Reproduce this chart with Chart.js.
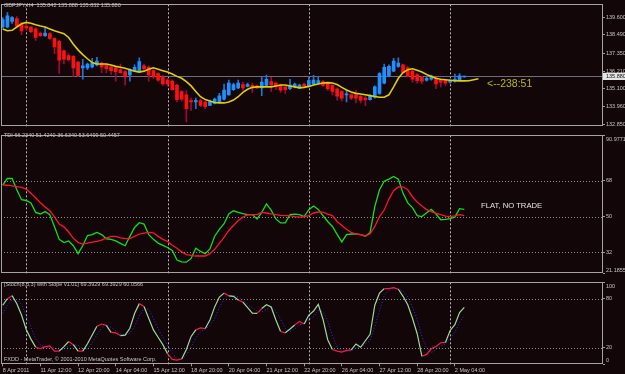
<!DOCTYPE html>
<html>
<head>
<meta charset="utf-8">
<script src="https://cdn.jsdelivr.net/npm/chart.js@4.4.0/dist/chart.umd.min.js"></script>
<style>
  body { margin: 0; background: #130609; }
  #wrap { position: relative; width: 625px; height: 374px; background: #130609; overflow: hidden;
          font-family: "Liberation Sans", Arial, sans-serif; }
  canvas { position: absolute; left: 0; }
  .t { position: absolute; white-space: nowrap; color: #c4c4c4; font-size: 5.5px; line-height: 1; }
</style>
</head>
<body>
<div id="wrap">
  <canvas id="main" width="625" height="131" style="top:0"></canvas>
  <canvas id="tdi" width="625" height="147" style="top:131px"></canvas>
  <canvas id="stoch" width="625" height="96" style="top:278px"></canvas>

  <div class="t" style="left:4px;top:3.3px">GBPJPY,H4&nbsp; 135.842 135.888 135.832 135.880</div>
  <div class="t" style="left:4px;top:132.6px">TDI 66.2340 51.4240 36.6340 53.6499 50.4457</div>
  <div class="t" style="left:4px;top:282.3px">[Stoch(8,3,3) with Slope v1.01] 69.3929 69.3929 60.0566</div>
  <div class="t" style="left:4px;top:356.6px">FXDD - MetaTrader, © 2001-2010 MetaQuotes Software Corp.</div>
  <div class="t" style="left:487px;top:77.5px;font-size:10.5px;color:#b8b814">&lt;--238:51</div>
  <div class="t" style="left:481px;top:202.3px;font-size:7.7px;color:#e4e4e4">FLAT, NO TRADE</div>
</div>

<script>
// ---- data (H4 bars, index 0 = 8 Apr 2011) ----
const tickBars = [0, 8, 16, 24, 32, 40, 48, 56, 64, 72, 80, 88, 96];
const timeLabels = ['8 Apr 2011', '11 Apr 12:00', '12 Apr 20:00', '14 Apr 04:00', '15 Apr 12:00',
  '18 Apr 20:00', '20 Apr 04:00', '21 Apr 12:00', '22 Apr 20:00', '26 Apr 04:00',
  '27 Apr 12:00', '28 Apr 20:00', '2 May 04:00'];
const gridBars = [5, 35, 65, 95];

const priceTicks = [132.85, 133.96, 135.10, 136.21, 137.35, 138.49, 139.60];
const tdiTicks = [21.1855, 32, 50, 68, 90.9771];
const tdiLevels = [32, 50, 68];
const stochTicks = [0, 20, 80, 100];
const stochLevels = [20, 80];

const opens = [138.99, 138.99, 139.34, 139.52, 139.16, 139.05, 138.99, 138.87, 138.60, 138.45,
  138.57, 138.27, 138.09, 137.49, 137.19, 137.14, 136.78, 136.42, 136.42, 136.48,
  136.60, 136.72, 136.60, 136.48, 136.42, 136.30, 136.18, 135.97, 136.21, 136.24,
  136.54, 136.45, 136.24, 136.06, 135.85, 135.64, 135.58, 135.34, 134.93, 134.72,
  134.36, 134.27, 134.36, 134.27, 134.06, 134.18, 134.27, 134.45, 134.72, 135.05,
  135.16, 135.37, 135.25, 135.31, 135.28, 135.16, 135.31, 135.55, 135.46, 135.34,
  135.22, 135.10, 135.22, 135.16, 135.40, 135.25, 135.40, 135.46, 135.55, 135.46,
  135.31, 135.10, 134.93, 134.72, 134.72, 134.72, 134.63, 134.51, 134.42, 134.57,
  134.81, 135.46, 135.91, 136.21, 136.51, 136.60, 136.42, 136.21, 136.00, 135.82,
  135.64, 135.70, 135.76, 135.64, 135.64, 135.52, 135.58, 135.64, 135.842];
const highs = [139.58, 139.90, 139.64, 139.64, 139.28, 139.34, 139.05, 138.93, 138.69, 138.99,
  138.63, 138.33, 138.15, 137.55, 137.31, 137.19, 136.84, 136.96, 136.72, 137.02,
  137.08, 136.78, 136.66, 136.54, 136.48, 136.66, 136.24, 136.36, 136.60, 137.05,
  136.66, 136.54, 136.30, 136.12, 135.94, 135.76, 135.64, 135.40, 134.99, 134.99,
  134.51, 134.51, 134.45, 134.33, 134.39, 134.51, 134.81, 135.40, 135.64, 135.46,
  135.64, 135.52, 135.46, 135.46, 135.34, 135.85, 135.97, 135.82, 135.52, 135.40,
  135.28, 135.70, 135.46, 135.40, 135.46, 135.85, 135.94, 135.85, 135.61, 135.52,
  135.37, 135.16, 134.99, 135.05, 134.78, 134.99, 134.69, 134.66, 134.72, 135.28,
  136.12, 136.66, 136.60, 137.02, 137.05, 136.66, 136.48, 136.27, 136.06, 135.88,
  135.82, 135.97, 135.82, 135.70, 135.70, 135.67, 136.03, 136.06, 135.888];
const lows = [138.93, 138.93, 139.22, 138.99, 138.51, 138.81, 138.63, 138.15, 138.39, 138.39,
  138.21, 137.31, 136.06, 136.66, 136.84, 135.88, 135.88, 135.70, 136.30, 136.42,
  136.54, 136.12, 136.12, 136.00, 135.58, 136.06, 135.34, 135.58, 136.18, 136.18,
  136.30, 135.58, 135.76, 135.58, 135.31, 135.28, 134.99, 134.27, 134.33, 133.02,
  133.73, 133.85, 133.97, 133.85, 134.03, 134.15, 134.21, 134.39, 134.69, 134.99,
  135.10, 134.99, 135.22, 134.87, 135.10, 134.66, 135.28, 134.93, 135.05, 134.87,
  134.81, 135.05, 135.16, 135.10, 135.19, 135.22, 135.34, 135.40, 135.25, 134.99,
  134.72, 134.39, 134.33, 134.27, 134.42, 134.21, 134.21, 134.03, 134.39, 134.51,
  134.75, 135.40, 135.85, 136.18, 136.45, 136.06, 135.85, 135.52, 135.46, 135.40,
  135.58, 135.64, 135.10, 135.22, 135.31, 135.46, 135.52, 135.58, 135.832];
const closes = [139.46, 139.70, 139.58, 139.05, 138.75, 138.93, 138.69, 138.33, 138.45, 138.60,
  138.27, 137.73, 136.90, 136.96, 136.93, 136.42, 135.94, 136.54, 136.66, 136.72,
  136.84, 136.48, 136.36, 136.24, 136.18, 136.12, 135.85, 136.30, 136.45, 136.81,
  136.36, 135.97, 135.85, 135.64, 135.40, 135.40, 135.05, 134.42, 134.45, 133.85,
  134.27, 134.36, 134.06, 133.97, 134.30, 134.45, 134.66, 135.02, 135.46, 135.37,
  135.46, 135.16, 135.37, 135.16, 135.16, 135.52, 135.70, 135.34, 135.25, 135.02,
  135.05, 135.34, 135.40, 135.34, 135.25, 135.61, 135.64, 135.61, 135.31, 135.10,
  134.93, 134.63, 134.51, 134.78, 134.51, 134.51, 134.39, 134.42, 134.66, 135.22,
  136.06, 136.45, 136.51, 136.84, 136.72, 136.12, 135.91, 135.70, 135.61, 135.58,
  135.76, 135.91, 135.40, 135.52, 135.46, 135.61, 135.70, 135.91, 135.880];

// moving average, displaced 3 bars forward (bars 0..101)
const maShifted = [138.87, 138.75, 138.78, 138.99, 139.19, 139.28, 139.22, 139.13, 139.05, 138.99,
  138.87, 138.75, 138.66, 138.57, 138.33, 137.91, 137.55, 137.25, 136.99, 136.75,
  136.66, 136.66, 136.66, 136.60, 136.51, 136.45, 136.39, 136.30, 136.21, 136.15,
  136.21, 136.33, 136.42, 136.33, 136.24, 136.15, 136.03, 135.88, 135.76, 135.55,
  135.28, 134.93, 134.60, 134.42, 134.33, 134.24, 134.21, 134.21, 134.27, 134.39,
  134.60, 134.87, 135.07, 135.19, 135.22, 135.22, 135.22, 135.22, 135.28, 135.34,
  135.34, 135.28, 135.22, 135.16, 135.19, 135.25, 135.34, 135.40, 135.46, 135.49,
  135.46, 135.37, 135.19, 135.02, 134.90, 134.81, 134.77, 134.72, 134.67, 134.61,
  134.57, 134.57, 134.72, 135.22, 135.76, 136.12, 136.30, 136.36, 136.27, 136.15,
  136.00, 135.88, 135.76, 135.70, 135.67, 135.64, 135.61, 135.60, 135.60, 135.61,
  135.67, 135.73];
const lastClose = 135.880;

// TDI: RSI price line (green) and trade signal line (red)
const rsiLine = [65.9, 69.2, 69.2, 63.5, 58.5, 58.1, 56.9, 52.1, 51.3, 52.5,
  51.0, 44.9, 38.5, 36.9, 37.7, 35.3, 31.3, 35.3, 40.4, 40.9,
  42.0, 40.9, 38.8, 38.5, 37.7, 36.5, 35.3, 40.0, 44.5, 46.9,
  46.2, 40.9, 38.5, 36.6, 35.5, 34.4, 32.9, 28.1, 27.2, 27.0,
  28.9, 34.0, 32.4, 31.3, 33.7, 40.1, 43.5, 46.4, 51.3, 52.9,
  52.1, 51.5, 51.0, 51.0, 48.8, 52.1, 56.4, 53.2, 48.8, 46.8,
  46.8, 51.0, 51.2, 51.0, 50.0, 53.5, 55.3, 53.6, 50.5, 47.5,
  45.0, 41.0, 37.2, 40.9, 41.2, 41.2, 40.9, 40.1, 42.0, 55.0,
  63.5, 67.8, 68.9, 70.2, 68.9, 61.7, 56.9, 54.5, 50.5, 50.0,
  51.9, 53.6, 51.3, 48.4, 48.6, 49.0, 49.7, 54.0, 53.65];
const signalLine = [66.0, 65.8, 65.5, 65.1, 64.7, 63.8, 61.8, 59.5, 57.0, 54.8,
  52.9, 49.8, 46.2, 44.8, 42.2, 39.0, 37.0, 36.1, 36.6, 37.1,
  37.5, 38.1, 39.1, 40.0, 40.0, 39.2, 38.9, 38.9, 40.0, 41.2,
  41.6, 42.0, 41.8, 40.0, 38.5, 37.5, 35.5, 34.0, 32.2, 30.8,
  30.4, 30.1, 30.1, 30.1, 31.3, 33.5, 36.5, 39.5, 43.0, 45.5,
  48.0, 49.7, 50.8, 51.0, 51.0, 52.1, 51.8, 51.4, 51.0, 50.6,
  50.5, 50.5, 50.0, 49.7, 49.9, 50.5, 51.8, 52.3, 52.2, 51.2,
  50.5, 47.5, 45.5, 43.6, 42.0, 41.2, 40.9, 40.2, 41.3, 45.0,
  50.0, 53.3, 58.8, 63.0, 64.9, 65.0, 63.5, 60.0, 57.3, 55.3,
  53.5, 52.5, 51.6, 51.0, 50.2, 50.0, 50.3, 51.0, 50.45];

// Stochastic 8,3,3
const stochMain = [72, 80, 83.7, 73.8, 60.1, 42.5, 30.7, 21, 19, 21.6,
  22.5, 16, 16, 21.6, 27.8, 23.9, 16, 16, 25, 35.7,
  46.3, 49.1, 47.5, 39, 38.4, 35, 35.5, 44, 62, 74,
  70.5, 56.1, 42, 33, 24, 13, 6, 5.1, 6.5, 18,
  34, 42, 44.3, 43.6, 54, 70, 82, 86.8, 83.5, 82.9,
  78.5, 75.8, 69, 62.5, 62, 68, 72.6, 69.9, 54, 40,
  38.4, 43, 48, 52.2, 49.1, 60.1, 64.9, 73.1, 55, 30,
  18, 16, 14.9, 16.9, 17.7, 24.8, 20.8, 28.7, 36.6, 72,
  86.8, 92.3, 92.3, 93.5, 91.5, 82.9, 72.6, 56.1, 37.3, 9.8,
  12.1, 18.9, 21.6, 26.3, 26.7, 41.3, 48.3, 63.2, 69.39];
const stochSignal = [62, 72, 79, 79, 73, 59, 45, 31, 24, 20,
  21, 20, 18, 18, 22, 24, 23, 19, 19, 26,
  36, 44, 48, 45, 41, 37, 36, 38, 46, 59,
  68, 67, 56, 43, 33, 23, 14, 7, 6, 11,
  21, 32, 40, 43, 47, 56, 69, 80, 84, 84,
  82, 79, 73, 69, 65, 64, 67, 70, 65, 55,
  44, 40, 43, 48, 50, 54, 58, 66, 64, 53,
  35, 21, 16, 16, 16.5, 20, 21, 25, 29, 46,
  65, 84, 90, 92.7, 92.4, 89, 82, 70, 55, 34,
  20, 14, 18, 22, 25, 31, 39, 51, 60.06];
// bars where the slope line is drawn red (flat slope)
const stochFlatBars = [1, 7, 8, 9, 10, 11, 14, 16, 20, 21, 23, 24, 29, 35, 36, 37, 41, 42,
  47, 50, 54, 59, 62, 63, 70, 71, 72, 73, 81, 82, 83, 89, 90, 91, 92, 93];

// ---- styling ----
const TXT = '#c4c4c4';
const FONT = { family: '"Liberation Sans", Arial, sans-serif', size: 5.5 };
const X_MIN = -0.36, X_MAX = 127.45;
const UP = '#1e90ff', DOWN = '#ff1010';
const UP_WICK = '#1c78d8', DOWN_WICK = '#9c0a3c';

function xScale(show) {
  return {
    type: 'linear', min: X_MIN, max: X_MAX, offset: false, display: show,
    afterBuildTicks: s => { s.ticks = tickBars.map(v => ({ value: v })); },
    afterFit: s => { s.height = show ? 9.7 : 0; },
    grid: { drawOnChartArea: false, drawTicks: true, tickLength: 2, color: '#9a9a9a' },
    border: { display: false },
    ticks: { autoSkip: false, maxRotation: 0, minRotation: 0, align: 'start', padding: 0.5,
             color: TXT, font: FONT, callback: (v, i) => timeLabels[i] }
  };
}

function yScale(min, max, ticks, fmt) {
  return {
    position: 'right', min, max,
    afterBuildTicks: s => { s.ticks = ticks.map(v => ({ value: v })); },
    afterFit: s => { s.width = 22; },
    grid: { drawOnChartArea: false, drawTicks: true, tickLength: 2, color: '#9a9a9a' },
    border: { display: false },
    ticks: { autoSkip: false, padding: 1, color: TXT, font: FONT, callback: fmt }
  };
}

// frame, dotted levels, vertical grid, edge label clamp, bid line
const panel = {
  id: 'panel',
  beforeDraw(chart, args, o) {
    if (!o.clamp) return;
    const a = chart.chartArea;
    chart.scales.y.getLabelItems().forEach(it => {
      const t = it.options.translation;
      t[1] = Math.min(Math.max(t[1], a.top + 3.8), a.bottom - 3.6);
    });
  },
  beforeDatasetsDraw(chart, args, o) {
    const { ctx, chartArea: a, scales } = chart;
    const line = (x1, y1, x2, y2) => { ctx.beginPath(); ctx.moveTo(x1, y1); ctx.lineTo(x2, y2); ctx.stroke(); };
    ctx.save();
    ctx.lineWidth = 1;
    ctx.setLineDash([1, 2]);
    ctx.strokeStyle = '#8c8c8c';
    (o.levels || []).forEach(v => {
      const y = Math.round(scales.y.getPixelForValue(v)) + 0.5;
      line(a.left, y, a.right, y);
    });
    ctx.setLineDash([2, 2]);
    ctx.strokeStyle = '#b8b8b8';
    gridBars.forEach(b => {
      const x = Math.round(scales.x.getPixelForValue(b)) + 0.5;
      line(x, a.top, x, a.bottom);
    });
    ctx.setLineDash([]);
    if (o.bid) {
      const y = Math.round(scales.y.getPixelForValue(o.bid)) + 0.5;
      ctx.strokeStyle = '#6c6c7c';
      line(a.left, y, a.right, y);
    }
    ctx.restore();
  },
  afterDraw(chart, args, o) {
    const { ctx, chartArea: a, scales } = chart;
    ctx.save();
    ctx.strokeStyle = '#a4a4a4';
    ctx.lineWidth = 1;
    ctx.strokeRect(Math.round(a.left) + 0.5, Math.round(a.top) + 0.5,
                   Math.round(a.width) - 1, Math.round(a.height) - 1);
    if (o.bid) {
      const y = scales.y.getPixelForValue(o.bid);
      ctx.fillStyle = '#e6e6e6';
      ctx.fillRect(a.right, y - 3.6, 625 - a.right, 7.2);
      ctx.fillStyle = '#101010';
      ctx.font = '5.5px "Liberation Sans", Arial, sans-serif';
      ctx.textBaseline = 'middle';
      ctx.fillText(o.bid.toFixed(3), a.right + 3, y + 0.3);
    }
    ctx.restore();
  }
};

const base = {
  responsive: false, animation: false,
  events: [],
  plugins: { legend: { display: false }, tooltip: { enabled: false } }
};

// ---- price panel ----
const candleCol = (i, up, down) => closes[i] >= opens[i] ? up : down;
new Chart(document.getElementById('main'), {
  type: 'bar',
  data: {
    datasets: [
      {
        type: 'line', order: 1,
        data: maShifted.map((v, i) => ({ x: i, y: v })),
        borderColor: '#dcd000', borderWidth: 1.6, pointRadius: 0, tension: 0
      },
      {
        order: 2, grouped: false, barThickness: 3, minBarLength: 1,
        data: opens.map((o, i) => ({ x: i, y: [o, closes[i]] })),
        backgroundColor: opens.map((o, i) => candleCol(i, UP, DOWN))
      },
      {
        order: 3, grouped: false, barThickness: 1, minBarLength: 1,
        data: highs.map((h, i) => ({ x: i, y: [lows[i], h] })),
        backgroundColor: highs.map((h, i) => candleCol(i, UP_WICK, DOWN_WICK))
      }
    ]
  },
  options: {
    ...base,
    layout: { padding: { left: 1, top: 1, right: 0, bottom: 1 } },
    scales: {
      x: xScale(false),
      y: yScale(132.713, 140.418, priceTicks, v => v.toFixed(3))
    },
    plugins: { ...base.plugins, panel: { bid: lastClose } }
  },
  plugins: [panel]
});

// ---- TDI panel ----
new Chart(document.getElementById('tdi'), {
  type: 'line',
  data: {
    datasets: [
      { data: signalLine.map((v, i) => ({ x: i, y: v })), borderColor: '#ff1030', borderWidth: 1.3,
        pointRadius: 0, tension: 0, order: 1 },
      { data: rsiLine.map((v, i) => ({ x: i, y: v })), borderColor: '#10e010', borderWidth: 1.3,
        pointRadius: 0, tension: 0, order: 2 }
    ]
  },
  options: {
    ...base,
    layout: { padding: { left: 1, top: 1, right: 0, bottom: 1 } },
    scales: {
      x: xScale(false),
      y: yScale(21.1855, 90.9771, tdiTicks, v => String(v))
    },
    plugins: { ...base.plugins, panel: { levels: tdiLevels, clamp: true } }
  },
  plugins: [panel]
});

// ---- Stochastic panel ----
const flat = new Set(stochFlatBars);
new Chart(document.getElementById('stoch'), {
  type: 'line',
  data: {
    datasets: [
      { data: stochMain.map((v, i) => ({ x: i, y: v })), borderWidth: 1.2, pointRadius: 0, tension: 0,
        borderColor: '#9fd89f', order: 1,
        segment: { borderColor: c => flat.has(c.p0DataIndex) ? '#ff1744' : '#9fd89f' } },
      { data: stochSignal.map((v, i) => ({ x: i, y: v })), borderWidth: 1, pointRadius: 0, tension: 0,
        borderColor: '#3434e0', borderDash: [1, 2], order: 2 }
    ]
  },
  options: {
    ...base,
    layout: { padding: { left: 1, top: 1.5, right: 0, bottom: 0 } },
    scales: {
      x: xScale(true),
      y: yScale(0, 100, stochTicks, v => String(v))
    },
    plugins: { ...base.plugins, panel: { levels: stochLevels, clamp: true } }
  },
  plugins: [panel]
});
</script>
</body>
</html>
